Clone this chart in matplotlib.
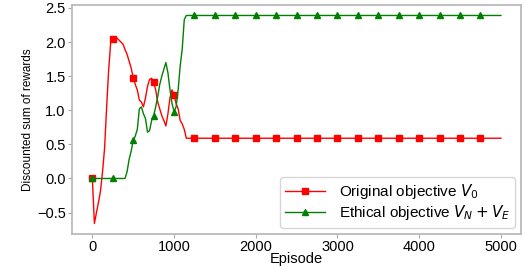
import matplotlib
matplotlib.use("Agg")
import matplotlib.pyplot as plt
import numpy as np

plt.rcParams['font.family'] = ['Liberation Sans', 'DejaVu Sans']
plt.rcParams['mathtext.fontset'] = 'dejavusans'

# episodes, one point every 25 episodes
episodes = np.arange(0, 5001, 25)

# noisy part (episodes 0 .. 1150), then the plateau
v0_early = [0.0, -0.66, -0.50, -0.35, -0.18, 0.10, 0.45, 1.05, 1.60, 2.00,
            2.04, 2.05, 2.06, 2.03, 2.00, 1.97, 1.89, 1.82, 1.72, 1.62,
            1.48, 1.38, 1.30, 1.15, 1.12, 1.05, 1.18, 1.35, 1.45, 1.47,
            1.42, 1.30, 1.12, 1.02, 0.92, 0.85, 0.77, 0.95, 1.18, 1.30,
            1.22, 1.10, 1.02, 0.85, 0.80, 0.72, 0.59]
v0_plateau = 0.59

ve_early = [0.0, 0.0, 0.0, 0.0, 0.0, 0.0, 0.0, 0.0, 0.0, 0.0,
            0.0, 0.0, 0.0, 0.0, 0.0, 0.0, 0.0, 0.10, 0.28, 0.40,
            0.56, 0.62, 0.72, 1.02, 1.05, 0.95, 0.88, 0.68, 0.70, 0.85,
            0.92, 1.05, 1.20, 1.38, 1.50, 1.60, 1.70, 1.55, 1.30, 1.10,
            0.98, 1.05, 1.30, 1.65, 1.90, 2.33, 2.39]
ve_plateau = 2.39

n_late = len(episodes) - len(v0_early)
v0 = np.array(v0_early + [v0_plateau] * n_late)
ve = np.array(ve_early + [ve_plateau] * n_late)

fig = plt.figure(figsize=(5.25, 2.67), dpi=100)
ax = fig.add_axes([0.137, 0.124, 0.856, 0.857])

marks = slice(0, len(episodes) - 1, 10)
ax.plot(episodes, v0, color='red', lw=1, marker='s', markersize=5,
        markevery=marks, label='Original objective $V_0$')
ax.plot(episodes, ve, color='green', lw=1, marker='^', markersize=5,
        markevery=marks, label='Ethical objective $V_N + V_E$')

ax.set_xticks([0, 1000, 2000, 3000, 4000, 5000])
ax.set_yticks([-0.5, 0.0, 0.5, 1.0, 1.5, 2.0, 2.5])
ax.set_xlabel('Episode', fontsize=10.5, labelpad=-1.5)
ax.set_ylabel('Discounted sum of rewards', fontsize=8.5, labelpad=2)
ax.tick_params(labelsize=10.5, length=3, color='#aaaaaa', pad=1.5)
for s in ax.spines.values():
    s.set_color('#b5b5b5')
    s.set_linewidth(1.2)

ax.legend(loc='lower right', fontsize=11, handlelength=2.6,
          labelspacing=0.15, borderpad=0.35, handletextpad=0.9,
          markerscale=0.8, borderaxespad=0.4, edgecolor='#cccccc')

fig.savefig('out.png', dpi=100)
